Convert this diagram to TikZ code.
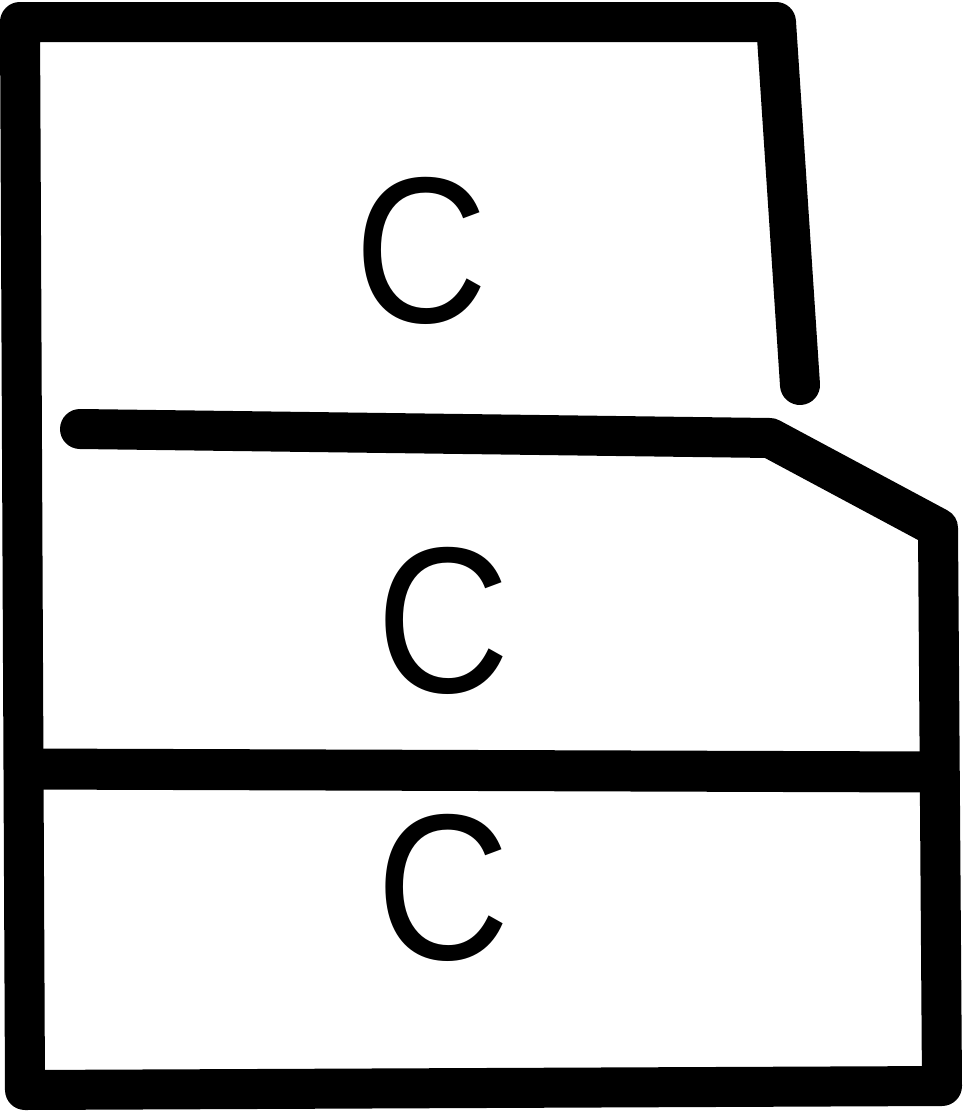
\documentclass[tikz,border=0pt]{standalone}
\usepackage{fontspec}
\setmainfont{Liberation Sans}
\usepackage{tikz}

\tikzset{
  wall/.style={line width=40pt, line join=round, line cap=round},
  shelf/.style={line width=41pt},
  letter/.style={font=\fontsize{208}{208}\selectfont, inner sep=0pt}
}
\newcommand{\narrowC}{\scalebox{0.89}[1]{C}}

\begin{document}
\begin{tikzpicture}[x=1pt,y=-1pt]
\useasboundingbox (0,0) rectangle (964,1112);
% Outline of the stack
\draw[wall] (800,385) -- (776,22) -- (20,22) -- (25,1090) -- (942,1086)
  -- (938,528) -- (770,438) -- (80,429);
% Divider between lower boxes
\draw[shelf] (24,769) -- (939,772);
% Labels
\node[letter] (c top) at (421,251) {\narrowC};
\node[letter] (c mid) at (443,621) {\narrowC};
\node[letter] (c low) at (443,888) {\narrowC};
\end{tikzpicture}
\end{document}
